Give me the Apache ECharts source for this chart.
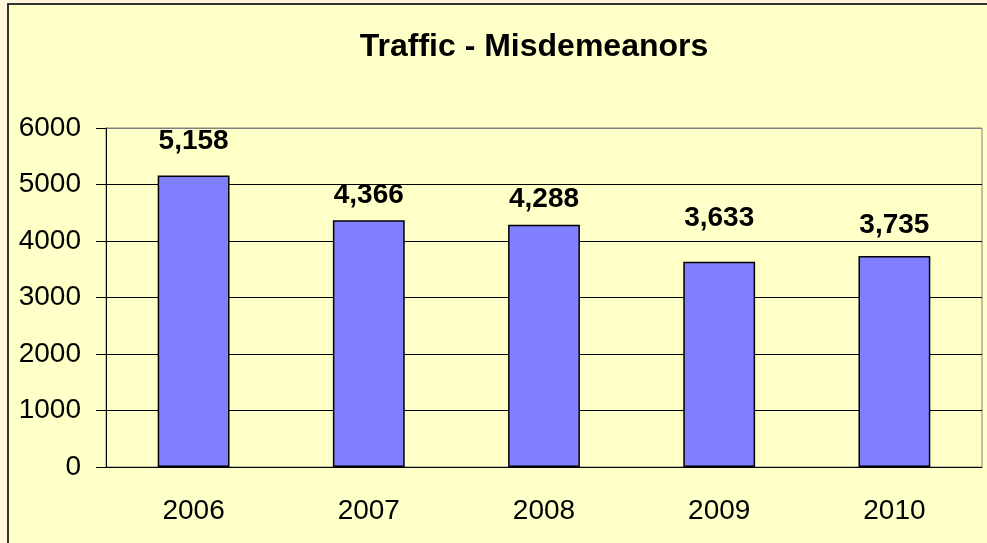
<!DOCTYPE html>
<html>
<head>
<meta charset="utf-8">
<script src="https://cdn.jsdelivr.net/npm/echarts@6/dist/echarts.min.js"></script>
<style>
  html, body { margin: 0; padding: 0; background: #fff6dc; }
  #chart { width: 987px; height: 543px; }
</style>
</head>
<body>
<div id="chart"></div>
<script>
const years = ["2006", "2007", "2008", "2009", "2010"];
const misdemeanors = [5158, 4366, 4288, 3633, 3735];
const yTicks = [0, 1000, 2000, 3000, 4000, 5000, 6000];

// label offsets above each bar, as placed in the original
const labelGap = [20, 11, 11, 29, 17];

const font = "'Liberation Sans', Arial, sans-serif";
const chart = echarts.init(document.getElementById("chart"));

chart.setOption({
  backgroundColor: "transparent",
  animation: false,
  graphic: [
    {
      type: "rect",
      z: -10,
      shape: { x: 8, y: 4, width: 1100, height: 620 },
      style: { fill: "#ffffc8", stroke: "#333", lineWidth: 2 },
    },
  ],
  title: {
    text: "Traffic - Misdemeanors",
    left: 529,
    top: 26,
    textAlign: "center",
    textStyle: { fontFamily: font, fontSize: 32, fontWeight: "bold", color: "#000" },
  },
  grid: {
    left: 106,
    right: 5,
    top: 128,
    bottom: 76,
    show: true,
    borderColor: "#808080",
    borderWidth: 1,
    backgroundColor: "transparent",
  },
  xAxis: {
    type: "category",
    data: years,
    axisLine: { lineStyle: { color: "#000", width: 1 } },
    axisTick: { length: 10, lineStyle: { color: "#000" } },
    axisLabel: { color: "#000", fontFamily: font, fontSize: 28, margin: 30 },
  },
  yAxis: {
    type: "value",
    min: yTicks[0],
    max: yTicks[yTicks.length - 1],
    interval: 1000,
    axisLine: { show: true, lineStyle: { color: "#000", width: 1 } },
    axisTick: { show: true, length: 10, lineStyle: { color: "#000" } },
    axisLabel: {
      color: "#000",
      fontFamily: font,
      fontSize: 28,
      margin: 25,
      formatter: (v) => String(v),
    },
    splitLine: {
      lineStyle: {
        color: ["#000", "#000", "#000", "#000", "#000", "#000", "#808080"],
        width: 1,
      },
    },
  },
  series: [
    {
      type: "bar",
      barWidth: "41%",
      itemStyle: { color: "#8080ff", borderColor: "#000", borderWidth: 1.5 },
      data: misdemeanors.map((v, i) => ({
        value: v,
        label: { distance: labelGap[i] },
      })),
      label: {
        show: true,
        position: "top",
        color: "#000",
        fontFamily: font,
        fontSize: 28,
        fontWeight: "bold",
        formatter: (p) => p.value.toLocaleString("en-US"),
      },
    },
  ],
});
</script>
</body>
</html>
